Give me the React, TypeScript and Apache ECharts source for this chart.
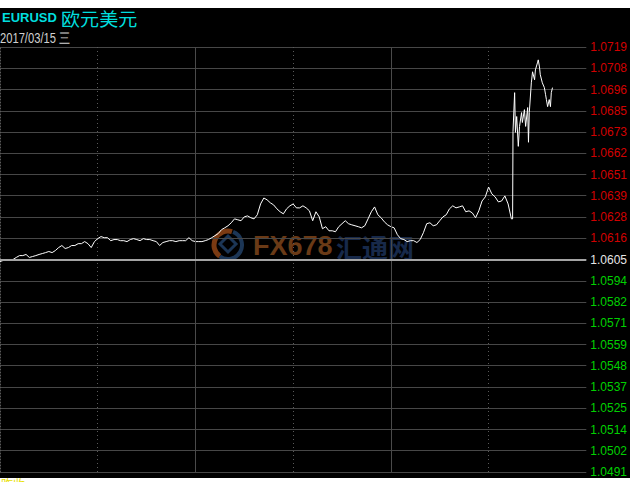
import React, { useEffect, useRef } from "react";
import * as echarts from "echarts";

const symbolCode = "EURUSD";
const symbolName = "欧元美元";
const dateLabel = "2017/03/15 三";
const watermarkLatin = "FX678";
const watermarkCjk = "汇通网";
const footerText = "昨收:";

const basePrice = 1.0605;
const priceStep = 0.00114;
const tickLabels = [
  "1.0491", "1.0502", "1.0514", "1.0525", "1.0537", "1.0548", "1.0559",
  "1.0571", "1.0582", "1.0594", "1.0605", "1.0616", "1.0628", "1.0639",
  "1.0651", "1.0662", "1.0673", "1.0685", "1.0696", "1.0708", "1.0719",
];
// session of 1440 minutes, divided in 4-hour blocks
const sessionMinutes = 1440;
const blockMinutes = 240;
const solidMarks = [480, 960];
const sampleMinutes = 8;

// 8-minute closes from the session open
const prices = [
  1.06039, 1.06045, 1.06045, 1.0605, 1.0605, 1.06061, 1.06071, 1.06071, 1.06077, 1.06061,
  1.06066, 1.06071, 1.06077, 1.06082, 1.06087, 1.06093, 1.06087, 1.06098, 1.06114, 1.06125,
  1.06109, 1.06114, 1.06125, 1.06125, 1.06135, 1.06135, 1.06146, 1.06135, 1.06114, 1.06146,
  1.06162, 1.06173, 1.06167, 1.06167, 1.06151, 1.06157, 1.06157, 1.06151, 1.06151, 1.06146,
  1.06157, 1.06162, 1.06157, 1.06151, 1.06162, 1.06157, 1.06157, 1.06151, 1.06146, 1.06125,
  1.06141, 1.06146, 1.06151, 1.06151, 1.06146, 1.06151, 1.06151, 1.06151, 1.06167, 1.06151,
  1.06146, 1.06146, 1.06146, 1.06151, 1.06157, 1.06167, 1.06178, 1.06189, 1.0621, 1.0622,
  1.06231, 1.06247, 1.06268, 1.06263, 1.06258, 1.06279, 1.06284, 1.06274, 1.06268, 1.0629,
  1.06348, 1.0638, 1.0637, 1.06354, 1.06343, 1.06322, 1.06306, 1.06295, 1.06322, 1.06338,
  1.06348, 1.06327, 1.06327, 1.06338, 1.06327, 1.06311, 1.06258, 1.06306, 1.06279, 1.06215,
  1.06226, 1.06204, 1.06204, 1.06199, 1.06226, 1.06242, 1.06258, 1.06242, 1.06236, 1.06231,
  1.06226, 1.0622, 1.06231, 1.06268, 1.06306, 1.06332, 1.0629, 1.06274, 1.06252, 1.06236,
  1.06226, 1.0622, 1.06183, 1.06162, 1.06157, 1.06146, 1.06151, 1.06151, 1.06141, 1.06157,
  1.06194, 1.06242, 1.06247, 1.06231, 1.06236, 1.06258, 1.06279, 1.0629, 1.06322, 1.06338,
  1.06327, 1.06332, 1.06338, 1.06306, 1.06311, 1.063, 1.06274, 1.06311, 1.06364, 1.06386,
  1.06439, 1.06402, 1.06386, 1.06359, 1.06364, 1.06391, 1.06348, 1.06268,
];

// finer ticks after the jump: minute of session, price
const lateMinutes = [
  1259, 1260, 1264, 1266, 1269, 1273, 1276, 1281, 1283, 1288, 1291, 1296, 1298, 1300,
  1305, 1308, 1313, 1315, 1320, 1322, 1325, 1327, 1332, 1337, 1340, 1342, 1345, 1349,
  1352, 1354, 1357,
];
const latePrices = [
  1.06268, 1.06737, 1.06945, 1.06732, 1.06817, 1.06657, 1.06764, 1.06838, 1.06785, 1.06854,
  1.06764, 1.06865, 1.06679, 1.06838, 1.06998, 1.07057, 1.07014, 1.07067, 1.07105, 1.07121,
  1.07083, 1.07041, 1.06998, 1.06972, 1.06934, 1.06908, 1.0687, 1.06908, 1.0687, 1.06945,
  1.06972,
];

const FONT = "'Liberation Sans', Arial, sans-serif";

export default function App() {
  const ref = useRef<HTMLDivElement>(null);

  useEffect(() => {
    document.body.style.margin = "0";
    document.body.style.background = "#ffffff";
    if (!ref.current) return;
    const chart = echarts.init(ref.current, undefined, { renderer: "svg" });

    const toStep = (p: number) => (p - basePrice) / priceStep;
    const seriesData = [
      ...prices.map((p, i) => [i * sampleMinutes, toStep(p)]),
      ...latePrices.map((p, i) => [lateMinutes[i], toStep(p)]),
    ];

    const labelStyle = (color: string) => ({ color, fontSize: 12, fontFamily: FONT });

    const option: any = {
      animation: false,
      backgroundColor: "#000000",
      grid: { left: 0, right: 42, top: 39, height: 428 },
      xAxis: {
        type: "value",
        min: 0,
        max: sessionMinutes,
        interval: blockMinutes,
        axisLine: { show: false },
        axisTick: { show: false },
        axisLabel: { show: false },
        splitLine: {
          show: true,
          showMinLine: false,
          showMaxLine: false,
          lineStyle: { color: "#5a5a5a", type: [1, 3], width: 1 },
        },
      },
      yAxis: {
        type: "value",
        position: "right",
        min: -10,
        max: 10,
        interval: 1,
        axisLine: { show: true, lineStyle: { color: "#5a5a5a", type: [1, 2], width: 1 } },
        axisTick: { show: false },
        splitLine: { show: true, lineStyle: { color: "#474747", width: 1 } },
        axisLabel: {
          margin: 4,
          formatter: (v: number) => {
            const idx = Math.round(v) + 10;
            const key = idx > 10 ? "up" : idx < 10 ? "down" : "flat";
            return `{${key}|${tickLabels[idx]}}`;
          },
          rich: {
            up: labelStyle("#d20000"),
            down: labelStyle("#00d000"),
            flat: labelStyle("#e6e6e6"),
          },
        },
      },
      graphic: [
        {
          type: "text",
          x: 2,
          y: 9,
          style: {
            text: symbolCode,
            fill: "#00dede",
            font: `bold 13px ${FONT}`,
            textVerticalAlign: "middle",
          },
        },
        {
          type: "text",
          x: 61,
          y: 10,
          scaleX: 1.06,
          style: {
            text: symbolName,
            fill: "#00dede",
            font: "18px 'Noto Sans CJK SC', sans-serif",
            textVerticalAlign: "middle",
          },
        },
        {
          type: "text",
          x: 0,
          y: 31,
          scaleX: 0.8,
          style: {
            text: dateLabel,
            fill: "#d0d0d0",
            font: `14px ${FONT}`,
            textVerticalAlign: "middle",
          },
        },
        {
          type: "group",
          z: 1,
          children: [
            {
              type: "arc",
              shape: { cx: 228, cy: 237, r: 14, startAngle: -1.2, endAngle: 2.2 },
              style: { stroke: "#1c3656", lineWidth: 4, fill: null },
            },
            {
              type: "arc",
              shape: { cx: 228, cy: 237, r: 14, startAngle: 2.2, endAngle: 5.0 },
              style: { stroke: "#7a3a12", lineWidth: 5, fill: null },
            },
            {
              type: "polygon",
              shape: { points: [[228, 228], [236, 236], [228, 244], [220, 236]] },
              style: { stroke: "#1c3656", lineWidth: 3, fill: null },
            },
            {
              type: "text",
              x: 253,
              y: 238,
              style: {
                text: watermarkLatin,
                fill: "#6a3a16",
                font: `bold 27px ${FONT}`,
                textVerticalAlign: "middle",
              },
            },
            {
              type: "text",
              x: 336,
              y: 238,
              style: {
                text: watermarkCjk,
                fill: "#17294a",
                font: "bold 26px 'Noto Sans CJK SC', sans-serif",
                textVerticalAlign: "middle",
              },
            },
          ],
        },
      ],
      series: [
        {
          type: "line",
          data: seriesData,
          showSymbol: false,
          symbol: "none",
          lineStyle: { color: "#ffffff", width: 1 },
          z: 3,
          markLine: {
            silent: true,
            symbol: ["none", "none"],
            label: { show: false },
            data: [
              ...solidMarks.map((m) => ({
                xAxis: m,
                lineStyle: { color: "#4a4a4a", width: 1, type: "solid" },
              })),
              {
                yAxis: 0,
                lineStyle: { color: "#a4a4a4", width: 2, type: "solid" },
              },
            ],
          },
        },
      ],
    };
    chart.setOption(option);
    return () => chart.dispose();
  }, []);

  return (
    <div style={{ paddingTop: 8 }}>
      <div ref={ref} style={{ width: 630, height: 470 }} />
      <div
        style={{
          height: 4,
          overflow: "hidden",
          color: "#e8e000",
          fontSize: 12,
          lineHeight: "12px",
          fontFamily: "'Noto Sans CJK SC', sans-serif",
          paddingLeft: 1,
        }}
      >
        {footerText}
      </div>
    </div>
  );
}
